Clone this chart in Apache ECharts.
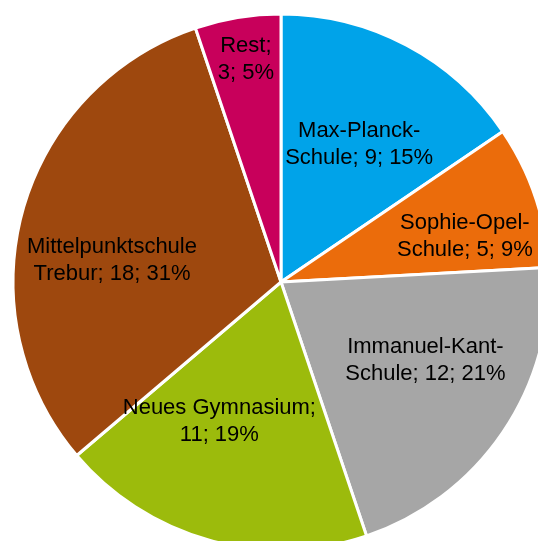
<!DOCTYPE html>
<html>
<head>
<meta charset="utf-8">
<script src="https://cdn.jsdelivr.net/npm/echarts@6/dist/echarts.min.js"></script>
<style>
  html, body { margin: 0; padding: 0; background: #fff; }
  #chart { width: 538px; height: 541px; }
</style>
</head>
<body>
<div id="chart"></div>
<script>
  // Schulen (Zeilenumbruch wie im Original)
  var schools = ['Max-Planck-\nSchule', 'Sophie-Opel-\nSchule', 'Immanuel-Kant-\nSchule', 'Neues Gymnasium', 'Mittelpunktschule\nTrebur', 'Rest'];
  var counts = [9, 5, 12, 11, 18, 3];
  var colors = ['#00A3E9', '#EB6C0B', '#A6A6A6', '#9CBB0C', '#9E480E', '#C8005B'];
  // Verschiebung der Beschriftungen (px) gegenüber der Standardposition
  var labelNudge = [[14, -17], [54, -2], [31, 2], [-25, 7], [-37, 15], [-13, -87]];

  var chart = echarts.init(document.getElementById('chart'));
  chart.setOption({
    animation: false,
    color: colors,
    series: [{
      type: 'pie',
      center: [281, 282],
      radius: 268,
      startAngle: 90,
      clockwise: true,
      percentPrecision: 0,
      itemStyle: { borderColor: '#fff', borderWidth: 3 },
      label: {
        show: true,
        position: 'inside',
        color: '#000',
        fontFamily: '"Liberation Sans", Arial, sans-serif',
        fontSize: 22,
        lineHeight: 27,
        align: 'center',
        formatter: function (p) {
          var sep = p.name.indexOf('\n') >= 0 ? '; ' : ';\n';
          return p.name + sep + p.value + '; ' + p.percent + '%';
        }
      },
      labelLayout: function (p) {
        return { dx: labelNudge[p.dataIndex][0], dy: labelNudge[p.dataIndex][1] };
      },
      emphasis: { disabled: true },
      data: schools.map(function (s, i) { return { name: s, value: counts[i] }; })
    }]
  });
</script>
</body>
</html>
